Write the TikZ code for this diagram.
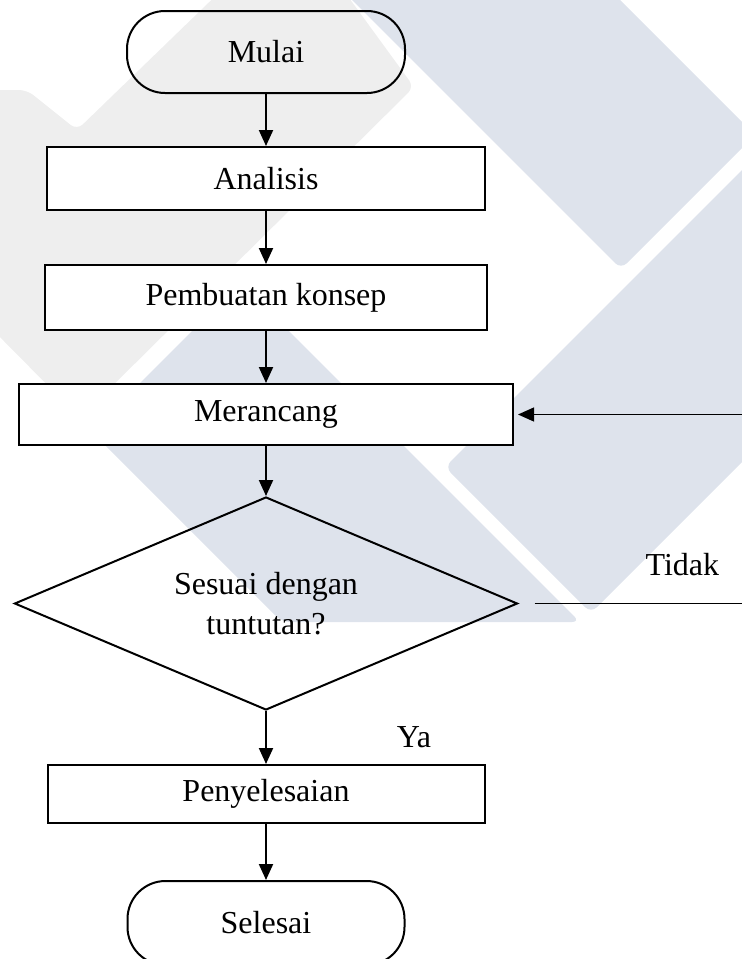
\documentclass[tikz,border=0pt]{standalone}
\usepackage{fontspec}
\setmainfont{Liberation Serif}
\usepackage{tikz}
\usetikzlibrary{arrows.meta,shapes,calc}
\definecolor{wmBlue}{RGB}{222,227,236}
\definecolor{wmGrey}{RGB}{238,238,238}
\tikzset{%
  >={Triangle[width=7pt,length=8pt]},
  % Specifications for style of nodes:
     base/.style = {rectangle, draw=black, line width=1pt, text centered},
    terminal/.style = {base, rounded corners=19pt, minimum width=139pt, minimum height=41pt},
    process/.style = {base, fill=white},
    decision/.style = {base, diamond, aspect=2.36, inner sep=0pt,
                       minimum width=251.5pt, minimum height=106.5pt},
    watermark/.style = {rounded corners=4pt},
    flow/.style = {->, line width=1pt},
    back/.style = {line width=0.6pt},
}

\begin{document}
\begin{tikzpicture}[x=1pt, y=-1pt, node distance=60pt,
    font=\fontsize{16}{20}\selectfont, align=center]
  \useasboundingbox (0,0) rectangle (371,479.5);
  \clip (0,0) rectangle (371,479.5);

  % Watermark shapes behind the chart
  \fill[wmGrey, watermark] (-10,45) -- (13.5,45) -- (38.5,65) -- (116,-10) -- (168,-10)
        -- (207,43.5) -- (40,209) -- (-10,158.5) -- cycle;
  \fill[wmBlue, watermark] (166,-10) -- (300,-10) -- (377.5,67.5) -- (310.5,134.5) -- cycle;
  \fill[wmBlue, watermark] (385,71) -- (222.5,233.5) -- (295.5,306.5) -- (385,217) -- cycle;
  \fill[wmBlue, watermark] (120.25,141.25) -- (45.75,215.75) -- (141,311) -- (290,311) -- cycle;

  % Specification of nodes (position, etc.)
  \node (mulai)       [terminal] at (133,26) {Mulai};

  \node (analisis)    [process, below of=mulai, yshift=-3.25pt,
                       minimum width=219pt, minimum height=31.5pt] {Analisis};

  \node (konsep)      [process, below of=analisis, yshift=0.5pt,
                       minimum width=221pt, minimum height=32.5pt] {Pembuatan konsep};

  \node (merancang)   [process, below of=konsep, yshift=1.5pt,
                       minimum width=247pt, minimum height=30.5pt] {Merancang};

  \node (cek)         [decision, below of=merancang, yshift=-34.5pt]
                      {Sesuai dengan\\ tuntutan?};

  \node (selesaikan)  [process, below of=cek, yshift=-35.25pt,
                       minimum width=218.5pt, minimum height=29pt] {Penyelesaian};

  \node (selesai)     [terminal, below of=selesaikan, yshift=-4.5pt,
                       minimum width=138.5pt, minimum height=42pt] {Selesai};

  % free ends of the loop at the right border
  \coordinate (noEnd)     at (371,301.75);
  \coordinate (backStart) at (371,207.25);

  % Specification of lines between nodes specified above
  \draw[flow] (mulai) to (analisis);
  \draw[flow] (analisis) to (konsep);
  \draw[flow] (konsep) to (merancang);
  \draw[flow] (merancang) to (cek);
  \draw[flow] (cek) to node (ya) [xshift=74pt] {Ya} (selesaikan);
  \draw[flow] (selesaikan) to (selesai);

  \draw[back, shorten <=8pt] (cek.east) to node (tidak) [pos=0.733, yshift=19.5pt] {Tidak} (noEnd);
  \draw[back, ->, shorten >=2pt] (backStart) to (merancang.east);

\end{tikzpicture}
\end{document}
